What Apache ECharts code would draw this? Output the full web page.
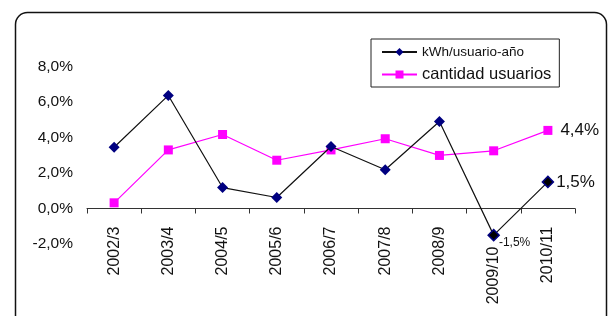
<!DOCTYPE html>
<html>
<head>
<meta charset="utf-8">
<script src="https://cdn.jsdelivr.net/npm/echarts@6/dist/echarts.min.js"></script>
<style>
  html, body { margin: 0; padding: 0; background: #fff; }
  #main { width: 611px; height: 316px; }
</style>
</head>
<body>
<div id="main"></div>
<script>
const categories = ["2002/3", "2003/4", "2004/5", "2005/6", "2006/7", "2007/8", "2008/9", "2009/10", "2010/11"];
const kwhValues = [3.45, 6.37, 1.18, 0.62, 3.49, 2.18, 4.9, -1.5, 1.5];
const usuariosValues = [0.32, 3.3, 4.17, 2.72, 3.3, 3.93, 2.99, 3.25, 4.4];
const seriesNames = ["kWh/usuario-año", "cantidad usuarios"];

const pct = v => v.toFixed(1).replace(".", ",") + "%";
const font = "Liberation Sans, Arial, sans-serif";

let myChart = echarts.init(document.getElementById("main"));

// last points carry a value label, like the original
let kwhData = kwhValues.map((v, i) => {
  let item = { value: v };
  if (i === 7) {
    item.itemStyle = { color: "#000", borderColor: "#000080", borderWidth: 1.5 };
    item.label = { show: true, position: "right", offset: [-6, 8], fontSize: 12 };
  }
  if (i === 8) {
    item.itemStyle = { color: "#000", borderColor: "#000080", borderWidth: 1.5 };
    item.label = { show: true, position: "right", offset: [-3, 0], fontSize: 17 };
  }
  return item;
});
let usuariosData = usuariosValues.map((v, i) => {
  let item = { value: v };
  if (i === 8) {
    item.label = { show: true, position: "right", offset: [3, 0], fontSize: 17 };
  }
  return item;
});

// the 2009/10 label sits lower in the original
let xLabels = categories.map(c => c === "2009/10"
  ? { value: c, textStyle: { padding: [0, 20, 0, 0] } }
  : c);

// grid: -2..10 over 213px, so 0 is 35.5px above the bottom
let option = {
  animation: false,
  textStyle: { fontFamily: font },
  graphic: [
    {
      type: "rect",
      shape: { x: 15.5, y: 12.5, width: 591, height: 340, r: 12 },
      style: { fill: "none", stroke: "#111", lineWidth: 1.5 },
      z: 0
    }
  ],
  legend: {
    orient: "vertical",
    left: 371,
    top: 39,
    padding: [6, 8, 4, 10],
    itemGap: 7,
    itemWidth: 35,
    itemHeight: 10,
    borderColor: "#222",
    borderWidth: 1,
    backgroundColor: "#fff",
    data: [
      { name: seriesNames[0], textStyle: { fontSize: 13.5, color: "#111", fontFamily: font } },
      { name: seriesNames[1], textStyle: { fontSize: 16.5, color: "#111", fontFamily: font } }
    ]
  },
  grid: {
    left: 87,
    right: 36,
    top: 31,
    bottom: 72,
    containLabel: false,
    outerBoundsMode: "none"
  },
  xAxis: {
    type: "category",
    data: xLabels,
    boundaryGap: true,
    offset: -35.5,
    axisLine: { onZero: false, lineStyle: { color: "#333", width: 1 } },
    axisTick: { show: true, length: 5, inside: false, lineStyle: { color: "#333" } },
    axisLabel: {
      rotate: 90,
      color: "#111",
      fontSize: 16,
      margin: 18,
      fontFamily: font
    },
    splitLine: { show: false }
  },
  yAxis: {
    type: "value",
    min: -2,
    max: 10,
    interval: 2,
    axisLine: { show: false },
    axisTick: { show: false },
    splitLine: { show: false },
    axisLabel: {
      showMaxLabel: false,
      color: "#111",
      fontSize: 15.5,
      margin: 14,
      fontFamily: font,
      formatter: v => pct(v)
    }
  },
  series: [
    {
      name: seriesNames[0],
      type: "line",
      data: kwhData,
      symbol: "diamond",
      symbolSize: 11,
      itemStyle: { color: "#000080" },
      lineStyle: { color: "#111", width: 1.2 },
      label: {
        color: "#111",
        fontFamily: font,
        formatter: p => pct(p.value)
      },
      z: 3
    },
    {
      name: seriesNames[1],
      type: "line",
      data: usuariosData,
      symbol: "rect",
      symbolSize: 9,
      itemStyle: { color: "#ff00ff" },
      lineStyle: { color: "#ff00ff", width: 1.2 },
      label: {
        color: "#111",
        fontFamily: font,
        formatter: p => pct(p.value)
      },
      z: 2
    }
  ]
};
myChart.setOption(option);
</script>
</body>
</html>
